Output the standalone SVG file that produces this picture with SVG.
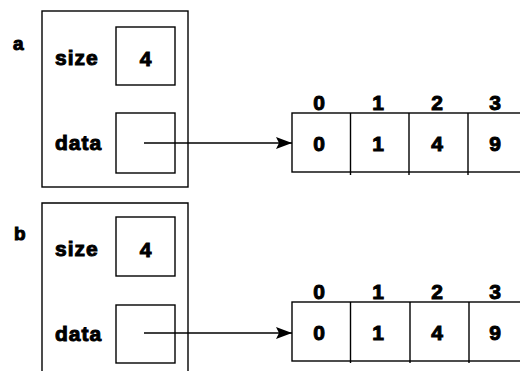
<svg xmlns="http://www.w3.org/2000/svg" width="520" height="371" viewBox="0 0 520 371">
<defs>
<style>
.b{fill:none;stroke:#000;stroke-width:1.4}
text{font-family:"Liberation Sans",Arial,sans-serif;font-weight:bold;font-size:21px;fill:#000;stroke:#000;stroke-width:1}
.lbl{letter-spacing:1px}
.c{text-anchor:middle}
</style>
<marker id="ah" markerWidth="16" markerHeight="13" refX="16" refY="6.5" orient="auto" markerUnits="userSpaceOnUse" viewBox="0 0 16 13">
<path d="M0,0.5 L16,6.5 L0,12.5 L3,6.5 z" fill="#000" stroke="none"/>
</marker>
</defs>
<rect width="520" height="371" fill="#fff"/>

<g id="struct-a">
<text x="13" y="50" style="font-size:19px">a</text>
<rect class="b" x="42" y="11" width="146" height="176"/>
<text class="lbl" x="55" y="65">size</text>
<rect class="b" x="116" y="27" width="59" height="58"/>
<text class="c" x="145.5" y="66">4</text>
<text class="lbl" x="55" y="150">data</text>
<rect class="b" x="116" y="113" width="59" height="60"/>
</g>

<g id="array-a">
<rect class="b" x="292" y="113" width="240" height="59"/>
<line class="b" x1="350.5" y1="113" x2="350.5" y2="175"/>
<line class="b" x1="409" y1="113" x2="409" y2="175"/>
<line class="b" x1="468" y1="113" x2="468" y2="175"/>
<text class="c" x="319" y="110">0</text>
<text class="c" x="378" y="110">1</text>
<text class="c" x="437" y="110">2</text>
<text class="c" x="495" y="110">3</text>
<text class="c" x="319" y="151">0</text>
<text class="c" x="378" y="151">1</text>
<text class="c" x="437" y="151">4</text>
<text class="c" x="495" y="151">9</text>
</g>

<g id="struct-b">
<text x="14" y="240" style="font-size:19px">b</text>
<path class="b" d="M42,380 V203 H188 V380"/>
<text class="lbl" x="55" y="256">size</text>
<rect class="b" x="116" y="217" width="59" height="59"/>
<text class="c" x="145.5" y="257">4</text>
<text class="lbl" x="55" y="341">data</text>
<rect class="b" x="116" y="305" width="59" height="58"/>
</g>

<g id="array-b">
<rect class="b" x="292" y="302" width="240" height="59"/>
<line class="b" x1="350.5" y1="302" x2="350.5" y2="363"/>
<line class="b" x1="410" y1="302" x2="410" y2="363"/>
<line class="b" x1="469" y1="302" x2="469" y2="363"/>
<text class="c" x="319" y="299">0</text>
<text class="c" x="378" y="299">1</text>
<text class="c" x="437" y="299">2</text>
<text class="c" x="495" y="299">3</text>
<text class="c" x="319" y="340">0</text>
<text class="c" x="378" y="340">1</text>
<text class="c" x="437" y="340">4</text>
<text class="c" x="495" y="340">9</text>
</g>

<g id="connectors">
<line class="b" x1="144" y1="143" x2="292" y2="143" marker-end="url(#ah)"/>
<line class="b" x1="144" y1="333" x2="292" y2="333" marker-end="url(#ah)"/>
</g>
</svg>
